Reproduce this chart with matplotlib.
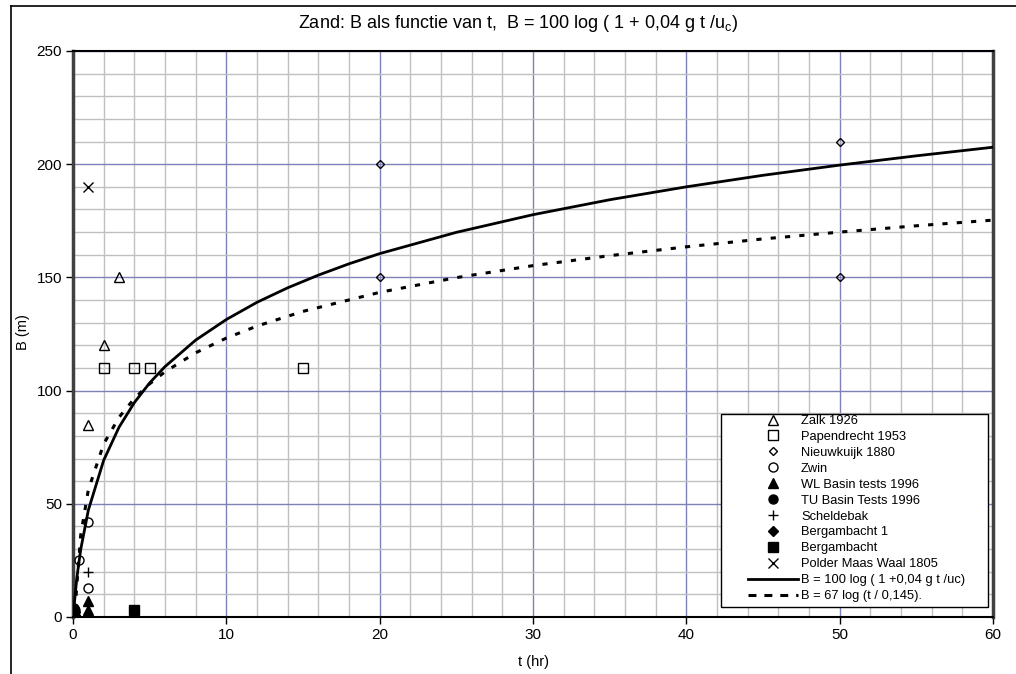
import matplotlib.pyplot as plt
from matplotlib.ticker import MultipleLocator
from matplotlib.patches import Rectangle
from matplotlib.lines import Line2D

plt.rcParams['font.family'] = ['Liberation Sans', 'DejaVu Sans']

# measured points (t in hr, B in m)
zalk_t = [1, 2, 3]
zalk_b = [85, 120, 150]
papendrecht_t = [2, 4, 5, 15]
papendrecht_b = [110, 110, 110, 110]
nieuwkuijk_t = [20, 20, 50, 50]
nieuwkuijk_b = [200, 150, 210, 150]
zwin_t = [0.4, 1, 1]
zwin_b = [25, 42, 13]
wl_t = [1, 1]
wl_b = [7, 3]
tu_t = [0.05, 0.1]
tu_b = [4, 3]
schelde_t = [1]
schelde_b = [20]
berg1_t = [0.1, 0.15]
berg1_b = [1, 2]
berg_t = [4]
berg_b = [3]
polder_t = [1]
polder_b = [190]

# curves
curve1_t = [0, 0.25, 0.5, 1, 2, 3, 4, 5, 6, 8, 10, 12, 14, 16, 18, 20, 25, 30, 35, 40, 45, 50, 55, 60]
curve1_b = [0, 17.3, 29.7, 47.2, 69.2, 83.8, 94.7, 103.4, 110.6, 122.3, 131.4, 139.0, 145.4,
            151.0, 156.0, 160.5, 169.9, 177.7, 184.3, 190.0, 195.1, 199.6, 203.7, 207.5]
curve2_t = [0.2, 0.5, 1, 2, 3, 4, 5, 6, 8, 10, 12, 15, 20, 25, 30, 35, 40, 45, 50, 55, 60]
curve2_b = [9.4, 36.0, 56.2, 76.4, 88.2, 96.5, 103.0, 108.3, 116.7, 123.2, 128.5, 135.0,
            143.4, 149.9, 155.2, 159.6, 163.5, 167.0, 170.0, 172.8, 175.3]

W, H = 1016, 674
fig = plt.figure(figsize=(W / 100, H / 100), dpi=100)
ax = fig.add_axes([73 / W, 1 - 617 / H, 920 / W, 566 / H])

# outer chart frame: only left and top edges are in view
fig.add_artist(Line2D([11 / W, 11 / W], [0, 1 - 6 / H], transform=fig.transFigure,
                      color='black', linewidth=1.2))
fig.add_artist(Line2D([11 / W, 1], [1 - 6 / H, 1 - 6 / H], transform=fig.transFigure,
                      color='black', linewidth=1.2))

series = [
    ("Zalk 1926", zalk_t, zalk_b, '^', False, 7),
    ("Papendrecht 1953", papendrecht_t, papendrecht_b, 's', False, 6.5),
    ("Nieuwkuijk 1880", nieuwkuijk_t, nieuwkuijk_b, 'D', False, 4.5),
    ("Zwin", zwin_t, zwin_b, 'o', False, 6.5),
    ("WL Basin tests 1996", wl_t, wl_b, '^', True, 7),
    ("TU Basin Tests 1996", tu_t, tu_b, 'o', True, 6.5),
    ("Scheldebak", schelde_t, schelde_b, '+', True, 7),
    ("Bergambacht 1", berg1_t, berg1_b, 'D', True, 5),
    ("Bergambacht", berg_t, berg_b, 's', True, 7),
    ("Polder Maas Waal 1805", polder_t, polder_b, 'x', True, 7),
]
handles = []
for name, t, b, m, filled, ms in series:
    h, = ax.plot(t, b, linestyle='none', marker=m, markersize=ms,
                 markerfacecolor='black' if filled else 'none',
                 markeredgecolor='black', markeredgewidth=1.0, label=name, zorder=4)
    handles.append(h)

lab1 = "B = 100 log ( 1 +0,04 g t /uc)"
lab2 = "B = 67 log (t / 0,145)."
ax.plot(curve1_t, curve1_b, color='black', linewidth=2.0, zorder=3)
ax.plot(curve2_t, curve2_b, color='black', linewidth=2.2, dashes=(1.7, 3.0), zorder=3)
handles.append(Line2D([], [], color='black', linewidth=2.0, label=lab1))
handles.append(Line2D([], [], color='black', linewidth=2.2, dashes=(2.6, 2.6), label=lab2))

ax.set_xlim(0, 60)
ax.set_ylim(0, 250)
ax.xaxis.set_major_locator(MultipleLocator(10))
ax.xaxis.set_minor_locator(MultipleLocator(2))
ax.yaxis.set_major_locator(MultipleLocator(50))
ax.yaxis.set_minor_locator(MultipleLocator(10))
ax.grid(which='minor', color='#c0c0c0', linewidth=1.0)
ax.grid(which='major', color='#8080b8', linewidth=1.0)
ax.set_axisbelow(True)
ax.tick_params(which='major', direction='out', length=5, width=1, labelsize=11, pad=3)
ax.tick_params(which='minor', length=0)

for side in ['top', 'bottom']:
    ax.spines[side].set_color('black')
    ax.spines[side].set_linewidth(1.5)
for side in ['left', 'right']:
    ax.spines[side].set_color('#404040')
    ax.spines[side].set_linewidth(2.5)

ax.set_xlabel("t (hr)", fontsize=10.5)
ax.set_ylabel("B (m)", fontsize=10.5)
ax.xaxis.set_label_coords((533 - 73) / 920, (617 - 662) / 566)
ax.yaxis.set_label_coords((23 - 73) / 920, (617 - 332) / 566)
ax.xaxis.label.set_va('center')
ax.yaxis.label.set_va('center')

fig.text(518 / W, 1 - 24 / H, "Zand: B als functie van t,  B = 100 log ( 1 + 0,04 g t /u$_\\mathregular{c}$)",
         ha='center', va='center', fontsize=13)

# legend box drawn by hand so the paddings match
ax.add_patch(Rectangle(((721 - 73) / 920, (617 - 607) / 566), 267 / 920, 193 / 566,
                       transform=ax.transAxes, facecolor='white', edgecolor='black',
                       linewidth=1.0, zorder=5))
leg = ax.legend(handles=handles, loc='upper left',
                bbox_to_anchor=((748 - 73) / 920, (617 - 415) / 566), borderaxespad=0,
                fontsize=9.3, frameon=False, handlelength=3.9, handletextpad=0.2,
                labelspacing=0.3, borderpad=0)
leg.set_zorder(6)

fig.savefig("out.png", dpi=100)
